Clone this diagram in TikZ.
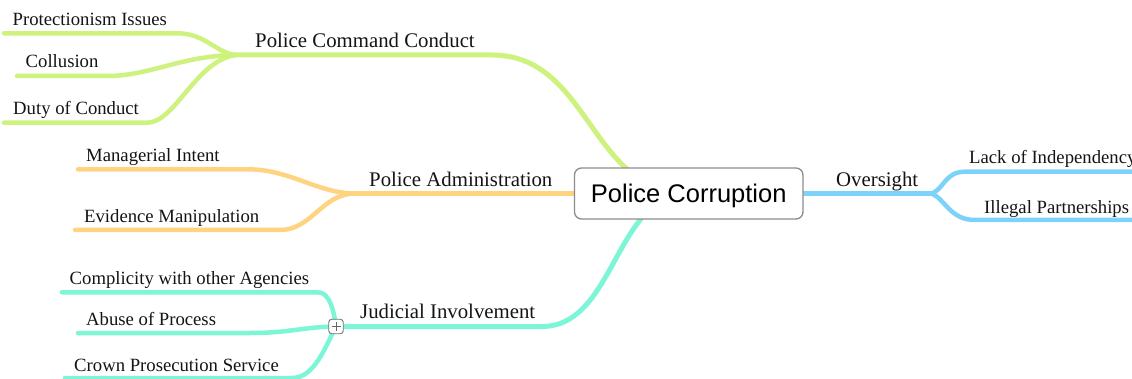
\documentclass[tikz,border=0pt]{standalone}
\usepackage{fontspec}
\setmainfont{Liberation Serif}
\newfontfamily\rootfont{Liberation Sans}
\definecolor{limeline}{HTML}{CDF27D}
\definecolor{orangeline}{HTML}{FFD480}
\definecolor{blueline}{HTML}{7DD2FA}
\definecolor{tealline}{HTML}{7DF5D7}
\begin{document}
\begin{tikzpicture}[x=1pt,y=-1pt,
  branch/.style={line width=5pt,line cap=round},
  twig/.style={line width=4.5pt,line cap=round},
  topic/.style={anchor=base west,inner sep=0pt,text=black!92,
    font=\fontsize{20.8}{24}\selectfont},
  leaf/.style={anchor=base west,inner sep=0pt,text=black!92,
    font=\fontsize{18.7}{22}\selectfont},
  rootbox/.style={draw=black!45,line width=1.3pt,rounded corners=7pt,fill=white,
    minimum width=228.5pt,minimum height=51pt,inner sep=0pt,
    text height=18.6pt,text depth=0pt,text=black,
    font=\rootfont\fontsize{25.5}{30}\selectfont},
  toggle/.style={draw=black!55,line width=0.9pt,rounded corners=3pt,fill=white,
    minimum size=14.5pt,inner sep=0pt}
]
\useasboundingbox (0,0) rectangle (1132,379);
\clip (0,0) rectangle (1132,379);

% centre of the main topic
\coordinate (rootC) at (688.75,193.5);

% ---------- Police Command Conduct (upper left) ----------
\coordinate (pccJ) at (235,55);
\coordinate (pccB) at (492,55);
\coordinate (piS) at (4,33.3);   \coordinate (piB) at (177,33.3);
\coordinate (coS) at (17,76);    \coordinate (coB) at (107,76);
\coordinate (duS) at (4,122.7);  \coordinate (duB) at (147,122.7);
\draw[branch,limeline] (pccJ) -- (pccB) .. controls (590,55) and (590,193.5) .. (rootC);
\draw[twig,limeline] (piS) -- (piB) .. controls (205,33.3) and (215,52) .. (pccJ);
\draw[twig,limeline] (coS) -- (coB) .. controls (150,76) and (180,56) .. (pccJ);
\draw[twig,limeline] (duS) -- (duB) .. controls (175,122.7) and (195,62) .. (pccJ);
\node[topic] (pcc) at (255,48) {Police Command Conduct};
\node[leaf] (pi) at (12.5,26) {Protectionism Issues};
\node[leaf] (co) at (25.5,68) {Collusion};
\node[leaf] (du) at (13,115) {Duty of Conduct};

% ---------- Police Administration (middle left) ----------
\coordinate (paJ) at (355,193.5);
\coordinate (miS) at (78,169.3);  \coordinate (miB) at (248,169.3);
\coordinate (emS) at (75,230);    \coordinate (emB) at (280,230);
\draw[branch,orangeline] (paJ) -- (rootC);
\draw[twig,orangeline] (miS) -- (miB) .. controls (290,169.3) and (318,193.5) .. (paJ);
\draw[twig,orangeline] (emS) -- (emB) .. controls (312,230) and (322,193.5) .. (paJ);
\node[topic] (pa) at (369,187) {Police Administration};
\node[leaf] (mi) at (86,162) {Managerial Intent};
\node[leaf] (em) at (84,222.5) {Evidence Manipulation};

% ---------- Judicial Involvement (lower left) ----------
\coordinate (jiJ) at (336,326.5);
\coordinate (jiB) at (542,326.5);
\coordinate (cwS) at (62,292.3);  \coordinate (cwB) at (318,292.3);
\coordinate (apS) at (78,333);    \coordinate (apB) at (250,333);
\coordinate (cpS) at (65,378);    \coordinate (cpB) at (292,378);
\draw[branch,tealline] (jiJ) -- (jiB) .. controls (615,326.5) and (615,193.5) .. (rootC);
\draw[twig,tealline] (cwS) -- (cwB) .. controls (330,292.3) and (334,312) .. (jiJ);
\draw[twig,tealline] (apS) -- (apB) .. controls (290,333) and (302,327) .. (jiJ);
\draw[twig,tealline] (cpS) -- (cpB) .. controls (315,378) and (326,345) .. (jiJ);
\node[topic] (ji) at (360,318.5) {Judicial Involvement};
\node[leaf] (cw) at (69.5,285) {Complicity with other Agencies};
\node[leaf] (ap) at (86,325.5) {Abuse of Process};
\node[leaf] (cp) at (74,371.5) {Crown Prosecution Service};
\node[toggle] (jiToggle) at (jiJ) {};
\draw[black!60,line width=0.9pt] (jiToggle.center) ++(-4.5,0) -- ++(9,0);
\draw[black!60,line width=0.9pt] (jiToggle.center) ++(0,-4.5) -- ++(0,9);

% ---------- Oversight (right) ----------
\coordinate (ovJ) at (931.7,193.5);
\coordinate (liB) at (965,171.7);  \coordinate (liE) at (1145,171.7);
\coordinate (ipB) at (975,220);    \coordinate (ipE) at (1145,220);
\draw[branch,blueline] (rootC) -- (ovJ);
\draw[twig,blueline] (ovJ) .. controls (944,189) and (945,171.7) .. (liB) -- (liE);
\draw[twig,blueline] (ovJ) .. controls (945,199) and (950,220) .. (ipB) -- (ipE);
\node[topic] (ov) at (836,187) {Oversight};
\node[leaf] (li) at (969,164) {Lack of Independency};
\node[leaf] (ip) at (984,213.3) {Illegal Partnerships};

% ---------- main topic ----------
\node[rootbox] (root) at (rootC) {Police Corruption};
\end{tikzpicture}
\end{document}
